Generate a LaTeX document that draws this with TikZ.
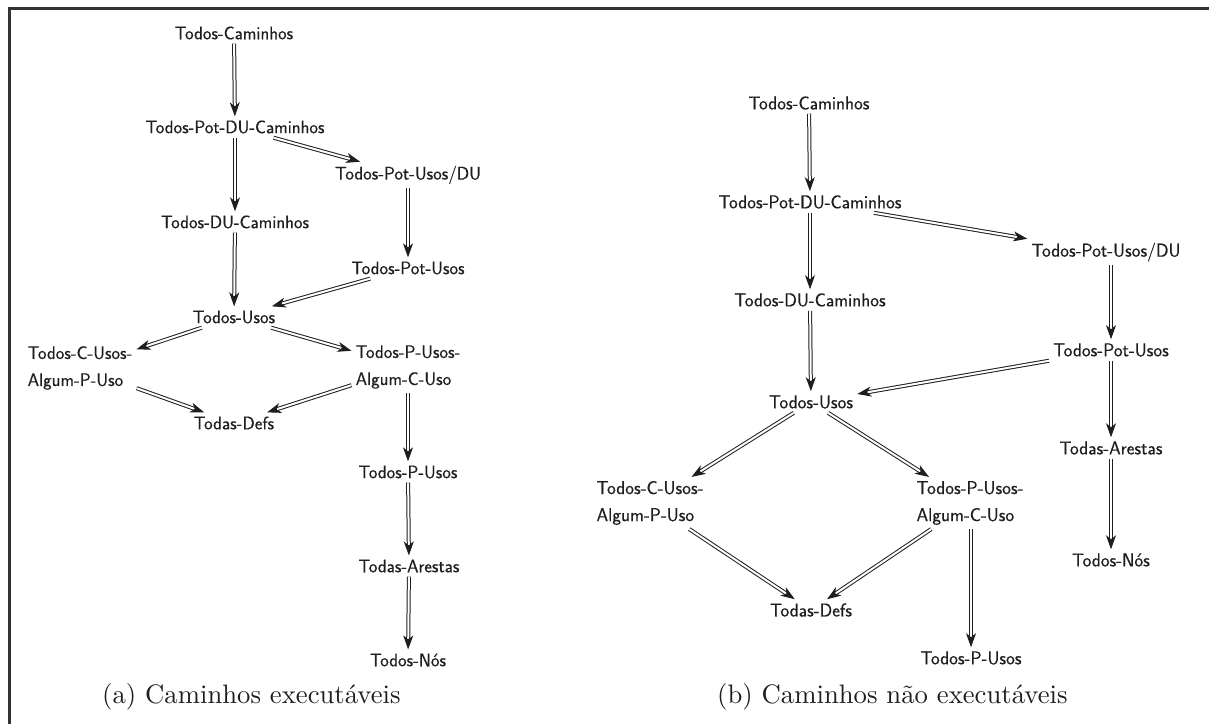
\documentclass[tikz,border=0pt]{standalone}
\usepackage{fontspec}
\usetikzlibrary{arrows.meta}
\newfontfamily\nodefont{Latin Modern Sans}[FakeBold=0.4]
\newfontfamily\capfont{lmroman10-regular.otf}
\definecolor{framegray}{HTML}{333335}
\definecolor{ink}{HTML}{1E1E1E}
\begin{document}
\begin{tikzpicture}[x=1pt,y=-1pt,
  crit/.style={font=\nodefont\fontsize{18.2}{27}\selectfont, inner sep=4pt, text=ink},
  critb/.style={font=\nodefont\fontsize{18.6}{27}\selectfont, inner sep=4pt, text=ink},
  impl/.style={draw=ink, double, double distance=2pt, line width=1pt,
    -{Stealth[length=14pt,width=10pt,inset=4pt]}},
  subcap/.style={font=\capfont\fontsize{26.7}{30}\selectfont, anchor=base west,
    inner sep=0pt, text=ink}
]
\useasboundingbox (0,0) rectangle (1209,724);
% frame
\draw[framegray, line width=3pt] (9.5,724) -- (9.5,8.5) -- (1209,8.5);

% ---------- (a) executable paths ----------
\node[crit] (a1) at (234,33) {Todos-Caminhos};
\node[crit] (a2) at (235,127) {Todos-Pot-DU-Caminhos};
\node[crit] (a3) at (408,175) {Todos-Pot-Usos/DU};
\node[crit] (a4) at (235,222) {Todos-DU-Caminhos};
\node[crit] (a5) at (408,268) {Todos-Pot-Usos};
\node[crit] (a6) at (234,317) {Todos-Usos};
\node[crit, align=left] (a7) at (80,368) {Todos-C-Usos-\\Algum-P-Uso};
\node[crit, align=left] (a8) at (408,367) {Todos-P-Usos-\\Algum-C-Uso};
\node[crit] (a9) at (234,423) {Todas-Defs};
\node[crit] (a10) at (408,472) {Todos-P-Usos};
\node[crit] (a11) at (409,566) {Todas-Arestas};
\node[crit] (a12) at (408,660) {Todos-Nós};
\node[subcap] (ca) at (102,703) {(a) Caminhos executáveis};

\draw[impl] (a1) -- (a2);
\draw[impl] (a2) -- (a4);
\draw[impl] (a2) -- (a3);
\draw[impl] (a3) -- (a5);
\draw[impl] (a4) -- (a6);
\draw[impl] (a5) -- (a6);
\draw[impl] (a6) -- (a7);
\draw[impl] (a6) -- (a8);
\draw[impl] (a7) -- (a9);
\draw[impl] (a8) -- (a9);
\draw[impl] (a8.south -| a10) -- (a10);
\draw[impl] (a10) -- (a11);
\draw[impl] (a11) -- (a12);

% ---------- (b) non-executable paths ----------
\node[critb] (b1) at (809,103) {Todos-Caminhos};
\node[critb] (b2) at (810,202) {Todos-Pot-DU-Caminhos};
\node[critb] (b3) at (1106,252) {Todos-Pot-Usos/DU};
\node[critb] (b4) at (810,300) {Todos-DU-Caminhos};
\node[critb] (b5) at (1111,350) {Todos-Pot-Usos};
\node[critb] (b6) at (811,402) {Todos-Usos};
\node[critb, align=left] (b7) at (650,503) {Todos-C-Usos-\\Algum-P-Uso};
\node[critb, align=left] (b8) at (970,503) {Todos-P-Usos-\\Algum-C-Uso};
\node[critb] (b9) at (811,610) {Todas-Defs};
\node[critb] (b10) at (971,658) {Todos-P-Usos};
\node[critb] (b11) at (1111,448) {Todas-Arestas};
\node[critb] (b12) at (1111,560) {Todos-Nós};
\node[subcap] (cb) at (717,703) {(b) Caminhos não executáveis};

\draw[impl] (b1) -- (b2);
\draw[impl] (b2) -- (b4);
\draw[impl] (b2) -- (b3);
\draw[impl] (b3.south -| b5) -- (b5);
\draw[impl] (b4) -- (b6);
\draw[impl] (b5) -- (b6);
\draw[impl] (b6) -- (b7);
\draw[impl] (b6) -- (b8);
\draw[impl] (b7) -- (b9);
\draw[impl] (b8) -- (b9);
\draw[impl] (b8.south -| b10) -- (b10);
\draw[impl] (b5) -- (b11);
\draw[impl] (b11) -- (b12);
\end{tikzpicture}
\end{document}
